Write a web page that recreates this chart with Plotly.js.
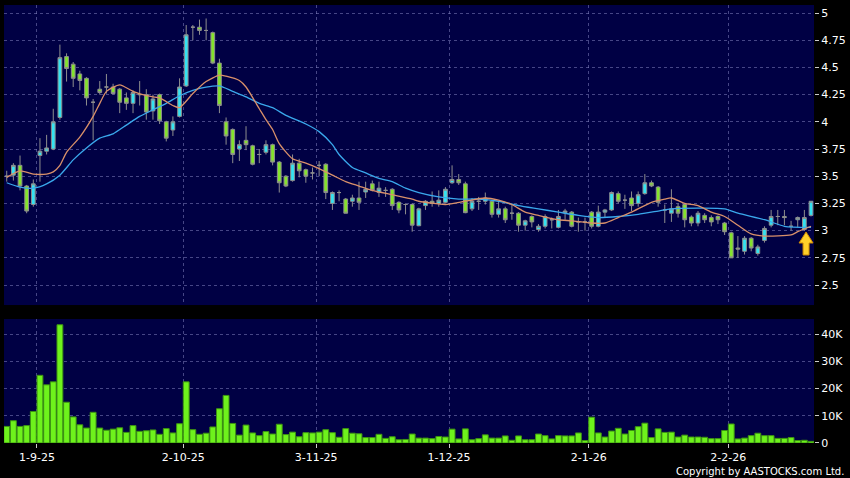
<!DOCTYPE html>
<html>
<head>
<meta charset="utf-8">
<script src="https://cdn.plot.ly/plotly-3.0.1.min.js"></script>
<style>html,body{margin:0;padding:0;background:#000;}#chart{width:850px;height:478px;}</style>
</head>
<body>
<div id="chart"></div>
<script>
// ---- Data ----
const openP  = [3.50,3.51,3.60,3.41,3.24,3.69,3.73,3.75,4.04,4.60,4.53,4.44,4.40,4.18,4.30,4.32,4.32,4.30,4.22,4.17,
                4.25,4.25,4.10,4.25,4.00,3.925,4.05,4.33,4.87,4.87,4.84,4.82,4.54,4.00,3.93,3.75,3.83,3.78,3.70,3.72,
                3.79,3.63,3.50,3.46,3.62,3.56,3.53,3.60,3.61,3.25,3.35,3.29,3.27,3.30,3.355,3.43,3.35,3.37,3.38,3.26,
                3.24,3.24,3.045,3.23,3.27,3.25,3.26,3.44,3.47,3.43,3.20,3.27,3.27,3.27,3.15,3.20,3.16,3.16,3.05,3.13,
                3.01,3.04,3.10,3.03,3.165,3.17,3.08,3.08,3.17,3.04,3.17,3.19,3.34,3.28,3.30,3.25,3.34,3.44,3.40,3.19,
                3.16,3.22,3.24,3.125,3.07,3.14,3.12,3.13,3.07,2.98,2.84,2.81,2.93,2.79,2.91,3.05,3.13,3.13,3.04,3.10,
                3.01,3.14];
const highP  = [3.55,3.62,3.69,3.42,3.47,3.85,3.88,4.12,4.71,4.63,4.55,4.47,4.41,4.21,4.375,4.44,4.35,4.31,4.27,4.29,
                4.375,4.30,4.25,4.26,4.01,4.05,4.40,4.89,4.89,4.94,4.95,4.83,4.58,4.04,3.94,3.83,3.96,3.79,3.75,3.83,
                3.80,3.64,3.51,3.70,3.66,3.57,3.58,3.64,3.62,3.36,3.37,3.30,3.33,3.45,3.45,3.46,3.45,3.40,3.39,3.27,
                3.25,3.25,3.21,3.28,3.36,3.37,3.40,3.60,3.52,3.45,3.30,3.31,3.35,3.28,3.27,3.22,3.24,3.17,3.10,3.14,
                3.06,3.15,3.12,3.19,3.20,3.18,3.12,3.12,3.18,3.23,3.20,3.36,3.36,3.33,3.36,3.36,3.52,3.46,3.41,3.24,
                3.38,3.25,3.25,3.14,3.18,3.16,3.14,3.14,3.08,2.99,2.95,2.95,2.94,2.87,3.04,3.19,3.19,3.19,3.09,3.13,
                3.19,3.27];
const lowP   = [3.45,3.46,3.37,3.16,3.22,3.45,3.70,3.74,4.02,4.37,4.32,4.29,4.15,3.83,4.25,4.26,4.25,4.08,4.11,4.08,
                4.15,4.02,4.02,3.98,3.82,3.87,4.04,4.32,4.75,4.80,4.75,4.53,4.08,3.79,3.62,3.64,3.74,3.60,3.62,3.70,
                3.60,3.35,3.40,3.45,3.49,3.44,3.47,3.50,3.29,3.19,3.27,3.16,3.22,3.19,3.30,3.36,3.31,3.31,3.19,3.16,
                3.15,2.99,3.04,3.19,3.22,3.22,3.25,3.43,3.42,3.16,3.18,3.19,3.24,3.12,3.12,3.07,3.10,2.99,3.00,3.03,
                2.99,3.02,3.02,3.02,3.10,3.03,2.99,3.00,3.02,3.03,3.12,3.18,3.25,3.20,3.18,3.22,3.33,3.40,3.22,3.07,
                3.08,3.12,3.03,3.04,3.04,3.07,3.04,3.06,2.96,2.75,2.75,2.78,2.81,2.77,2.89,3.03,3.05,3.05,3.00,3.03,
                3.00,3.13];
const closeP = [3.50,3.60,3.41,3.18,3.43,3.73,3.76,4.00,4.59,4.49,4.40,4.38,4.22,4.18,4.27,4.32,4.26,4.18,4.17,4.27,
                4.25,4.09,4.21,4.01,3.85,4.00,4.32,4.80,4.87,4.84,4.84,4.54,4.15,3.87,3.70,3.79,3.79,3.61,3.70,3.79,
                3.63,3.44,3.41,3.62,3.55,3.50,3.53,3.60,3.35,3.35,3.35,3.16,3.30,3.26,3.38,3.37,3.39,3.37,3.23,3.19,
                3.24,3.05,3.20,3.27,3.25,3.28,3.38,3.47,3.44,3.165,3.27,3.27,3.30,3.15,3.20,3.10,3.16,3.05,3.09,3.08,
                3.04,3.13,3.10,3.13,3.18,3.04,3.08,3.08,3.04,3.17,3.19,3.35,3.27,3.28,3.23,3.33,3.44,3.41,3.26,3.19,
                3.20,3.16,3.10,3.07,3.16,3.10,3.08,3.10,2.99,2.75,2.83,2.93,2.84,2.85,3.02,3.13,3.13,3.12,3.04,3.12,
                3.12,3.27];
// volume in thousands of shares
const volumeK = [6.1,8.2,6.1,6.4,11.6,24.9,21.4,22.5,43.5,15.0,9.6,6.7,5.5,11.3,5.5,4.7,5.1,5.6,3.9,6.4,
                 4.3,4.5,4.8,3.2,5.3,3.7,7.1,22.5,4.9,3.2,3.6,5.9,12.6,17.5,7.2,2.9,6.6,3.7,2.7,4.2,
                 3.3,6.9,3.1,4.0,2.3,3.8,3.7,4.0,4.9,3.8,2.1,5.3,3.6,3.4,2.0,2.0,3.2,1.7,2.3,1.2,
                 1.3,3.3,1.8,1.8,1.6,2.4,2.2,5.1,1.5,5.2,1.2,1.6,3.0,1.8,1.8,2.6,1.0,2.6,1.2,1.2,
                 3.3,2.7,1.5,2.7,2.6,2.6,3.7,0.9,9.5,3.7,2.2,4.4,5.4,3.3,4.6,6.0,7.3,2.0,5.2,3.9,
                 4.0,2.2,2.9,2.2,2.2,2.1,1.6,1.6,4.6,7.0,1.5,1.8,2.7,3.6,2.7,2.7,1.7,1.7,2.0,0.9,
                 1.0,0.6];
// moving averages
const ma10Idx = [0,2,4,6,7,8,9,11,13,14,15,17,19,21,23,25,26,28,30,32,33,35,36,38,39,40,41,43,45,47,49,51,53,55,58,61,62,66,69,72,74,76,78,80,83,85,88,90,92,94,97,99,100,102,104,106,108,110,112,114,118,119,121];
const ma10    = [3.49,3.55,3.52,3.52,3.54,3.60,3.72,3.86,4.05,4.17,4.28,4.34,4.28,4.24,4.22,4.15,4.13,4.26,4.37,4.43,4.42,4.38,4.32,4.12,4.02,3.93,3.80,3.66,3.62,3.57,3.51,3.45,3.41,3.37,3.33,3.29,3.27,3.24,3.27,3.30,3.28,3.24,3.17,3.14,3.10,3.09,3.07,3.07,3.12,3.17,3.26,3.29,3.30,3.25,3.23,3.17,3.13,3.05,2.97,2.95,2.96,2.99,3.04];
const ma20Idx = [0,2,4,6,8,10,12,14,16,18,20,22,24,26,28,30,32,34,36,38,40,42,45,47,49,50,52,54,56,58,60,62,65,68,71,74,77,80,83,86,89,92,95,98,100,108,110,114,117,121];
const ma20    = [3.44,3.40,3.39,3.43,3.51,3.65,3.76,3.85,3.89,3.97,4.05,4.11,4.17,4.24,4.29,4.32,4.33,4.28,4.23,4.17,4.13,4.06,3.98,3.91,3.79,3.70,3.58,3.53,3.48,3.45,3.39,3.35,3.31,3.29,3.29,3.27,3.23,3.20,3.17,3.14,3.12,3.13,3.15,3.18,3.20,3.20,3.16,3.10,3.04,3.03];
// date ticks (trading-day index of the gridline) and labels
const tickIdx    = [4.55, 26.55, 46.55, 66.55, 87.55, 108.55];
const tickLabels = ['1-9-25','2-10-25','3-11-25','1-12-25','2-1-26','2-2-26'];
const volTickVals = [0,10,20,30,40];
const volTickText = ['0','10K','20K','30K','40K'];
const arrowIdx = 120;

// ---- Styles ----
const UP = '#33e3f2', DOWN = '#84e32c', WICK = '#8e8e8e', VOL = '#6ef21c';
const GRID = 'rgba(140,140,200,0.5)';
const DASH = '3px,3px';
const FONT = {family: 'DejaVu Sans, Verdana, sans-serif', size: 11, color: '#ffffff'};
const xIdx = openP.map((_, i) => i);

const traces = [
  {type: 'candlestick', x: xIdx, open: openP, high: highP, low: lowP, close: closeP,
   xaxis: 'x', yaxis: 'y', whiskerwidth: 0, hoverinfo: 'skip',
   increasing: {fillcolor: UP, line: {color: WICK, width: 1}},
   decreasing: {fillcolor: DOWN, line: {color: WICK, width: 1}}},
  {type: 'scatter', mode: 'lines', x: ma20Idx, y: ma20, xaxis: 'x', yaxis: 'y',
   line: {color: '#3aa8ec', width: 1.3, shape: 'spline', smoothing: 0.6}, hoverinfo: 'skip'},
  {type: 'scatter', mode: 'lines', x: ma10Idx, y: ma10, xaxis: 'x', yaxis: 'y',
   line: {color: '#d9906a', width: 1.3, shape: 'spline', smoothing: 0.6}, hoverinfo: 'skip'},
  {type: 'bar', x: xIdx, y: volumeK, xaxis: 'x2', yaxis: 'y2',
   marker: {color: VOL, line: {color: '#3d9412', width: 1}}, hoverinfo: 'skip'}
];

const xCommon = {range: [-0.41, 121.45], tickvals: tickIdx, showgrid: true, gridcolor: GRID,
  griddash: DASH, gridwidth: 1, zeroline: false, showline: false, fixedrange: true};

const layout = {
  width: 850, height: 478,
  paper_bgcolor: '#000000', plot_bgcolor: '#000044',
  margin: {l: 4, r: 36, t: 5, b: 35},
  showlegend: false, bargap: 0.12, boxgap: 0.2, font: FONT,
  xaxis: Object.assign({}, xCommon, {anchor: 'y', showticklabels: false, ticks: '',
    rangeslider: {visible: false}}),
  yaxis: {domain: [0.315, 1], side: 'right', range: [2.316, 5.074], tick0: 2.5, dtick: 0.25,
    showgrid: true, gridcolor: GRID, griddash: DASH, zeroline: false, ticks: 'outside',
    ticklen: 4, tickcolor: '#cccccc', tickfont: FONT, fixedrange: true},
  xaxis2: Object.assign({}, xCommon, {anchor: 'y2', ticktext: tickLabels, ticks: 'outside',
    ticklen: 4, tickcolor: '#cccccc', tickfont: FONT}),
  yaxis2: {domain: [0, 0.283], side: 'right', range: [0, 45.6], tickvals: volTickVals,
    ticktext: volTickText, showgrid: true, gridcolor: GRID, griddash: DASH, zeroline: false,
    ticks: 'outside', ticklen: 4, tickcolor: '#cccccc', tickfont: FONT, fixedrange: true},
  shapes: [{type: 'path', xref: 'x', yref: 'y', xsizemode: 'pixel', ysizemode: 'pixel',
    xanchor: arrowIdx, yanchor: 2.776,
    path: 'M -1.3 0 L 4.7 0 L 4.7 12 L 8.7 12 L 1.7 23 L -5.3 12 L -1.3 12 Z',
    fillcolor: '#ffd02a', line: {color: '#d08a00', width: 1}}],
  annotations: [{text: 'Copyright by AASTOCKS.com Ltd.', xref: 'paper', yref: 'paper',
    x: 1.04, y: 0, xanchor: 'right', yanchor: 'top', yshift: -21, showarrow: false,
    font: {family: 'DejaVu Sans, Verdana, sans-serif', size: 10, color: '#ffffff'}}]
};

Plotly.newPlot('chart', traces, layout, {displayModeBar: false, staticPlot: true});
</script>
</body>
</html>
